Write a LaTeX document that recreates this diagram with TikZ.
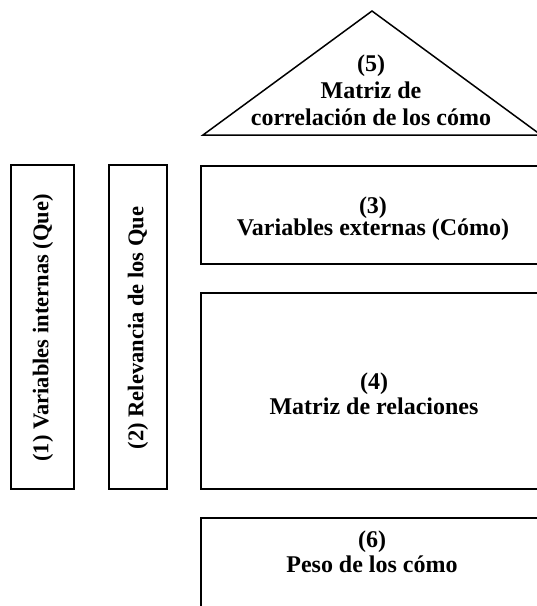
\documentclass[tikz,border=0pt]{standalone}
\usepackage{fontspec}
\setmainfont{Liberation Serif}
\usepackage{tikz}

\begin{document}
\begin{tikzpicture}[x=1pt,y=-1pt]
    \tikzset{box/.style = {draw,line width=1.5pt,inner sep=0pt}}
    \tikzset{txt/.style = {align=center,inner sep=0pt,font=\fontsize{24}{25.5}\selectfont\bfseries}}
    \tikzset{vtxt/.style = {rotate=90,inner sep=0pt,font=\fontsize{22.5}{25}\selectfont\bfseries}}
    \useasboundingbox (0,0) rectangle (537,606);
    % roof
    \coordinate (tl) at (203,135);
    \coordinate (tt) at (372,11);
    \coordinate (tr) at (541,135);
    \draw[line width=1.5pt,line join=miter] (tl) -- (tt) -- (tr) -- cycle;
    \node[txt,font=\fontsize{24}{27}\selectfont\bfseries] (t5) at (371,90) {(5)\\Matriz de\\correlación de los cómo};

    % boxes
    \node[box,minimum width=63pt,minimum height=324pt] (b1) at (42.5,327) {};
    \node[box,minimum width=58pt,minimum height=324pt] (b2) at (138,327) {};
    \node[vtxt] (t1) at (43,328) {(1) Variables internas (Que)};
    \node[vtxt] (t2) at (138,328) {(2) Relevancia de los Que};

    \node[box,minimum width=342pt,minimum height=98pt] (b3) at (372,215) {};
    \node[txt,font=\fontsize{24}{22}\selectfont\bfseries] (t3) at (373,219) {(3)\\Variables externas (Cómo)};

    \node[box,minimum width=342pt,minimum height=196pt] (b4) at (372,391) {};
    \node[txt] (t4) at (374,394) {(4)\\Matriz de relaciones};

    \node[box,minimum width=342pt,minimum height=110pt] (b6) at (372,573) {};
    \node[txt] (t6) at (372,552) {(6)\\Peso de los cómo};
\end{tikzpicture}
\end{document}
